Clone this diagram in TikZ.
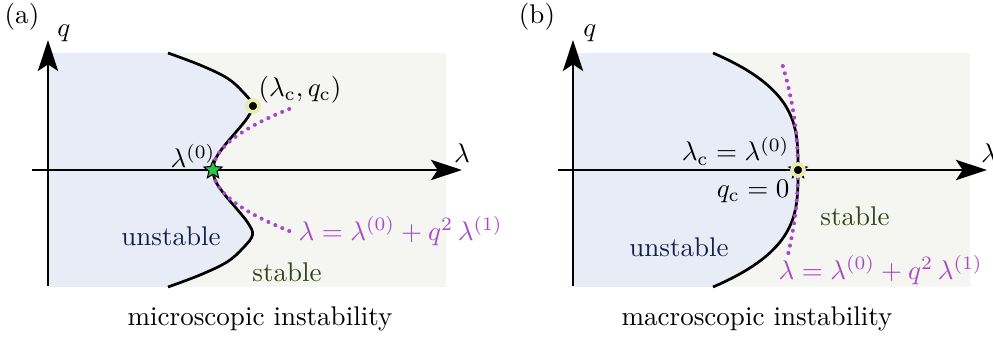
\documentclass[tikz,border=0pt]{standalone}
\usepackage{amsmath}
\usetikzlibrary{arrows.meta, shapes.geometric}

\definecolor{unstablebg}{RGB}{232,236,247}
\definecolor{stablebg}{RGB}{245,246,241}
\definecolor{unstabletxt}{RGB}{22,32,72}
\definecolor{stabletxt}{RGB}{52,68,22}
\definecolor{lawpurple}{RGB}{168,72,200}
\definecolor{halo}{RGB}{232,236,172}
\definecolor{stargreen}{RGB}{40,200,70}

\begin{document}
\begin{tikzpicture}[x=0.37pt, y=0.37pt,
  >={Stealth[length=11.5pt, width=7.5pt, inset=2.5pt]},
  axis/.style={->, line width=0.8pt},
  boundary/.style={line width=1pt},
  approx/.style={lawpurple, line width=1.5pt, line cap=round, dash pattern=on 0pt off 2.8pt},
  marker/.style={star, star points=5, star point ratio=2.2, minimum size=7pt, inner sep=0pt,
    fill=stargreen, draw=black, line width=0.4pt},
  crit/.style={circle, inner sep=0pt, minimum size=4.4pt, fill=black, draw=halo, line width=1.4pt}]

\useasboundingbox (0,0) rectangle (993,338);

% ============================================================
% (a) mikroskopowa niestabilnosc, osie w (48,168)
% ============================================================
\begin{scope}[shift={(48,168)}]
  % === TLO ===
  \fill[stablebg] (0,-117) rectangle (398,117);
  \fill[unstablebg] (0,-117) -- plot[smooth, tension=0.6] coordinates {(120,-117) (152,-105)
    (179,-92) (195,-78) (204.5,-65) (200,-53) (188,-38) (177,-25) (168,-12) (165,0) (168,12)
    (177,25) (188,38) (200,53) (204.5,65) (195,78) (179,92) (152,105) (120,117)}
    -- (0,117) -- cycle;

  % === OSIE ===
  \draw[axis] (-16,0) -- (414,0);
  \draw[axis] (0,-116) -- (0,130);
  \node (q-a) at (16,137) {$q$};
  \node (lam-a) at (414,17) {$\lambda$};
  \node (tag-a) at (-26,153) {(a)};

  % === GRANICA STABILNOSCI ===
  \draw[boundary] plot[smooth, tension=0.6] coordinates {(120,-117) (152,-105)
    (179,-92) (195,-78) (204.5,-65) (200,-53) (188,-38) (177,-25) (168,-12) (165,0) (168,12)
    (177,25) (188,38) (200,53) (204.5,65) (195,78) (179,92) (152,105) (120,117)};

  % === PRZYBLIZENIE KWADRATOWE ===
  \draw[approx] plot[domain=-61:62, samples=40] ({165+0.0205*\x*\x}, \x);

  % === PUNKTY ===
  \node[marker] (lam0-a) at (165,0) {};
  \node[crit] (crit-a) at (205,64) {};

  % === ETYKIETY ===
  \node[anchor=west] (crit-lbl-a) at (201,80) {$(\lambda_{\mathrm{c}}, q_{\mathrm{c}})$};
  \node (lam0-lbl-a) at (145,14) {$\lambda^{(0)}$};
  \node[unstabletxt] (unst-a) at (123,-66) {unstable};
  \node[stabletxt] (st-a) at (239,-102) {stable};
  \node[lawpurple, anchor=west] (law-a) at (241,-61) {$\lambda = \lambda^{(0)} + q^2\,\lambda^{(1)}$};
  \node (cap-a) at (212,-149) {microscopic instability};
\end{scope}

% ============================================================
% (b) makroskopowa niestabilnosc, osie w (573,168)
% ============================================================
\begin{scope}[shift={(573,168)}]
  % === TLO ===
  \fill[stablebg] (0,-117) rectangle (397,117);
  \fill[unstablebg] (0,-117) -- plot[domain=-117:117, samples=80]
    ({225-85*pow(abs(\x)/117,3.2)}, \x) -- (0,117) -- cycle;

  % === OSIE ===
  \draw[axis] (-15,0) -- (414,0);
  \draw[axis] (0,-116) -- (0,130);
  \node (q-b) at (17,137) {$q$};
  \node (lam-b) at (416,17) {$\lambda$};
  \node (tag-b) at (-36,153) {(b)};

  % === GRANICA STABILNOSCI ===
  \draw[boundary] plot[domain=-117:117, samples=80] ({225-85*pow(abs(\x)/117,3.2)}, \x);

  % === PRZYBLIZENIE KWADRATOWE ===
  \draw[approx] plot[domain=-83:110, samples=40] ({225-0.0014*\x*\x}, \x);

  % === PUNKTY (gwiazdka pod punktem krytycznym) ===
  \node[marker] (lam0-b) at (225,0) {};
  \node[crit] (crit-b) at (225,0) {};

  % === ETYKIETY ===
  \node[anchor=east] (crit-lbl-b) at (226,19) {$\lambda_{\mathrm{c}} = \lambda^{(0)}$};
  \node[anchor=east] (qc-lbl-b) at (226,-21) {$q_{\mathrm{c}} = 0$};
  \node[stabletxt] (st-b) at (282,-46) {stable};
  \node[unstabletxt] (unst-b) at (106,-77) {unstable};
  \node[lawpurple, anchor=west] (law-b) at (196,-100) {$\lambda = \lambda^{(0)} + q^2\,\lambda^{(1)}$};
  \node (cap-b) at (184,-149) {macroscopic instability};
\end{scope}

\end{tikzpicture}
\end{document}
